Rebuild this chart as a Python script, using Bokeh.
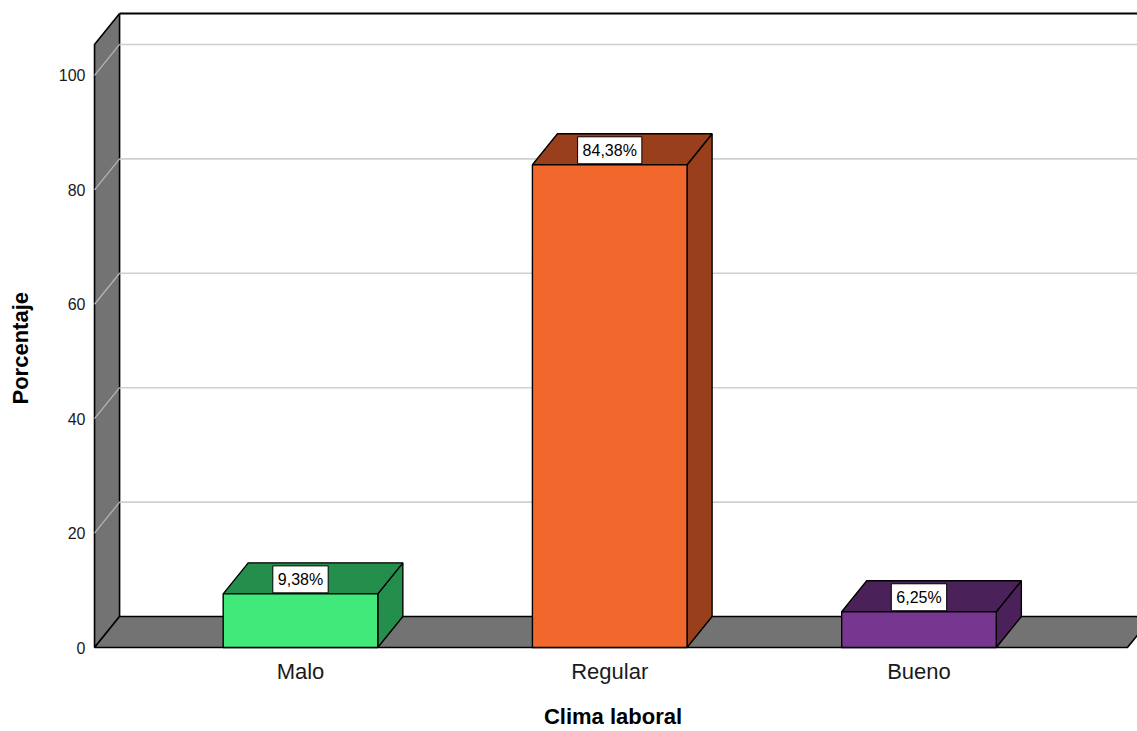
from bokeh.plotting import figure
from bokeh.models import Range1d, FixedTicker, Title, LinearAxis
from bokeh.core.properties import value
from bokeh.embed import file_html
from bokeh.resources import INLINE

# Data
categories = ["Malo", "Regular", "Bueno"]
percentages = [9.38, 84.38, 6.25]
value_labels = ["9,38%", "84,38%", "6,25%"]
y_ticks = [0, 20, 40, 60, 80, 100]
front_colors = ["#41e87a", "#f2682c", "#77368f"]
shade_colors = ["#248f4c", "#9a3f1b", "#4a2259"]

# 3D scene geometry (data units)
BAR_W = 0.5
DX = 0.081          # depth shift along x
DY = 5.42           # depth shift along y
WALL_TOP = 105.4
WALL_X = -0.666
FLOOR_RIGHT = 2.674
WALL_GREY = "#737373"
GRID_GREY = "#cfcfcf"
FONT = "Liberation Sans"

p = figure(
    width=1137, height=731,
    x_range=Range1d(-0.6855, 2.7066), y_range=Range1d(-0.52, 111.7),
    output_backend="svg", toolbar_location=None,
    min_border_left=88, min_border_right=0, min_border_top=8, min_border_bottom=81,
)
p.outline_line_color = None
p.xgrid.visible = False
p.ygrid.visible = False
p.background_fill_color = "white"
p.border_fill_color = "white"

# left side wall
p.patch([WALL_X, WALL_X, WALL_X + DX, WALL_X + DX],
        [0, WALL_TOP, WALL_TOP + DY, DY],
        fill_color=WALL_GREY, line_color="black", line_width=1.6)

# floor
p.patch([WALL_X, WALL_X + DX, FLOOR_RIGHT + DX, FLOOR_RIGHT],
        [0, DY, DY, 0],
        fill_color=WALL_GREY, line_color="black", line_width=1.6)

# gridlines: diagonal on the side wall, horizontal on the back wall
grid_vals = [t for t in y_ticks if t > 0]
p.multi_line([[WALL_X, WALL_X + DX] for _ in grid_vals],
             [[t, t + DY] for t in grid_vals],
             line_color="#b4b4b4", line_width=1.3)
p.multi_line([[WALL_X + DX, FLOOR_RIGHT + DX] for _ in grid_vals],
             [[t + DY, t + DY] for t in grid_vals],
             line_color=GRID_GREY, line_width=1.6)

# top edge of the back wall
p.line([WALL_X + DX, FLOOR_RIGHT + DX], [WALL_TOP + DY, WALL_TOP + DY],
       line_color="black", line_width=2)

# bars
idx = list(range(len(categories)))
lefts = [i - BAR_W / 2 for i in idx]
rights = [i + BAR_W / 2 for i in idx]

p.patches([[r, r + DX, r + DX, r] for r in rights],
          [[0, DY, v + DY, v] for v in percentages],
          fill_color=shade_colors, line_color="black", line_width=1.4)
p.patches([[l, l + DX, r + DX, r] for l, r in zip(lefts, rights)],
          [[v, v + DY, v + DY, v] for v in percentages],
          fill_color=shade_colors, line_color="black", line_width=1.4)
p.quad(left=lefts, right=rights, bottom=0, top=percentages,
       fill_color=front_colors, line_color="black", line_width=1.4)

# value labels
p.text(x=idx, y=percentages, text=value_labels,
       text_align="center", text_baseline="bottom",
       text_font=value(FONT), text_font_size="16px", text_color="black",
       y_offset=-1, padding=5,
       background_fill_color="white", border_line_color="black", border_line_width=1)

# axes
xa = p.xaxis[0]
xa.ticker = FixedTicker(ticks=idx)
xa.major_label_overrides = {i: c for i, c in zip(idx, categories)}
xa.axis_line_color = None
xa.major_tick_line_color = None
xa.major_tick_out = 0
xa.major_tick_in = 0
xa.minor_tick_line_color = None
xa.major_label_text_font = FONT
xa.major_label_text_font_size = "22px"
xa.major_label_text_color = "#1a1a1a"
xa.major_label_standoff = 8
xa.axis_label = "Clima laboral"
xa.axis_label_text_font = FONT
xa.axis_label_text_font_size = "22px"
xa.axis_label_text_font_style = "bold"
xa.axis_label_text_color = "black"
xa.axis_label_standoff = 17

ya = p.yaxis[0]
ya.ticker = FixedTicker(ticks=y_ticks)
ya.axis_line_color = None
ya.major_tick_line_color = None
ya.major_tick_out = 0
ya.major_tick_in = 0
ya.minor_tick_line_color = None
ya.major_label_text_font = FONT
ya.major_label_text_font_size = "16px"
ya.major_label_text_color = "#1a1a1a"
ya.major_label_standoff = 3

# blank gap between the tick labels and the y title
gap = LinearAxis(ticker=FixedTicker(ticks=[0]), major_label_overrides={0: ""},
                 axis_line_color=None, major_tick_line_color=None,
                 minor_tick_line_color=None, major_tick_out=20, major_tick_in=0,
                 minor_tick_out=0, major_label_standoff=0)
p.add_layout(gap, "left")

# y title, placed along the height of the front wall
p.add_layout(Title(
    text="Porcentaje", align="left", offset=246, vertical_align="middle",
    text_font=FONT, text_font_size="22px", text_font_style="bold",
    text_color="black", standoff=4,
), "left")

open("out.html", "w").write(file_html(p, INLINE))
